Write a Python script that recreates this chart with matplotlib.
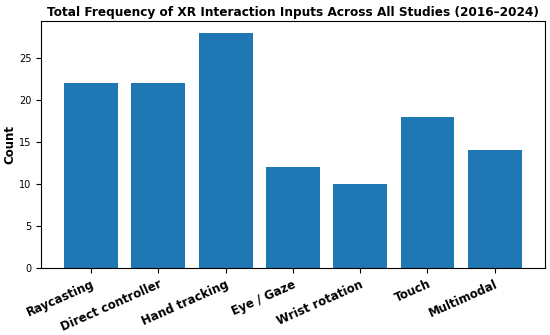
import matplotlib
matplotlib.use("Agg")
import matplotlib.pyplot as plt

categories = ["Raycasting", "Direct controller", "Hand tracking", "Eye / Gaze",
              "Wrist rotation", "Touch", "Multimodal"]
counts = [22, 22, 28, 12, 10, 18, 14]

fig, ax = plt.subplots(figsize=(5.5, 3.35), dpi=100)
ax.bar(categories, counts, color="#1f77b4", width=0.8)
ax.set_title("Total Frequency of XR Interaction Inputs Across All Studies (2016\u20132024)",
             fontsize=8.7, fontweight="bold", pad=4)
ax.set_ylabel("Count", fontsize=8.5, fontweight="bold", labelpad=2)
ax.tick_params(axis="y", labelsize=7)
ax.tick_params(axis="x", labelsize=8.5)
plt.setp(ax.get_xticklabels(), rotation=24, ha="right", rotation_mode="anchor",
         fontweight="bold")
ax.set_ylim(0, 29.4)
fig.subplots_adjust(left=0.075, right=0.99, top=0.937, bottom=0.2)
fig.savefig("out.png", dpi=100)
